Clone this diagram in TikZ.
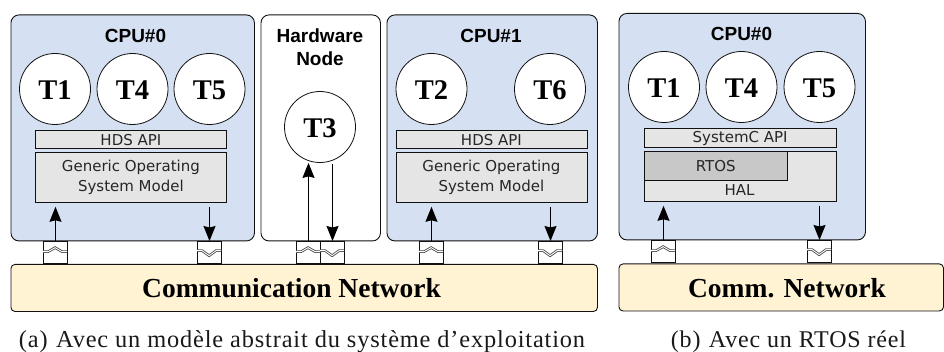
\documentclass[tikz,border=0pt]{standalone}
\usepackage{fontspec}
\setmainfont{Liberation Serif}
\newfontfamily\capf[LetterSpace=3.5]{Liberation Serif}
\newfontfamily\hdr{Liberation Sans}
\newfontfamily\apif{DejaVu Sans}
\usetikzlibrary{arrows.meta,calc}
\definecolor{cpublue}{HTML}{D5E1F3}
\definecolor{netyel}{HTML}{FFF3D3}
\definecolor{apigrey}{HTML}{E5E5E5}
\definecolor{rtosgrey}{HTML}{C8C8C8}
\definecolor{ln}{HTML}{111111}
\tikzset{
  x=1pt,y=-1pt,
  cpubox/.style={draw=ln,fill=cpublue,line width=.9pt,rounded corners=8pt,minimum width=#1,minimum height=226pt,anchor=north west,inner sep=0pt},
  hwbox/.style={draw=ln,fill=white,line width=.9pt,rounded corners=8pt,minimum width=#1,minimum height=226pt,anchor=north west,inner sep=0pt},
  netbox/.style={draw=ln,fill=netyel,line width=.9pt,rounded corners=4pt,minimum width=#1,minimum height=47pt,inner sep=0pt,anchor=north west},
  nettxt/.style={font=\fontsize{27.5}{30}\selectfont\bfseries,text=black},
  task/.style={draw=ln,fill=white,circle,line width=.8pt,minimum size=71pt,inner sep=0pt,text height=21pt,text depth=0pt,font=\fontsize{28.5}{32}\selectfont\bfseries},
  title/.style={font=\hdr\fontsize{19}{23}\selectfont\bfseries,align=center,text=black},
  apibox/.style={draw=ln,fill=apigrey,line width=.8pt,minimum width=#1,minimum height=18.5pt,inner sep=0pt,anchor=north west,font=\apif\fontsize{15}{18}\selectfont,text=black!85},
  osbox/.style={draw=ln,fill=apigrey,line width=.8pt,minimum width=#1,minimum height=50pt,inner sep=0pt,anchor=north west,align=center,font=\apif\fontsize{15}{20}\selectfont,text=black!85},
  rtosbox/.style={draw=ln,fill=rtosgrey,line width=.8pt,minimum width=143.5pt,minimum height=29.5pt,inner sep=0pt,anchor=north west,font=\apif\fontsize{15}{18}\selectfont,text=black!85},
  labeltxt/.style={font=\apif\fontsize{15}{18}\selectfont,text=black!85},
  port/.style={draw=ln,fill=white,line width=.8pt,minimum width=24pt,minimum height=22.5pt,inner sep=0pt,anchor=north},
  flow/.style={line width=1pt,draw=black,-{Stealth[length=15pt,width=12pt,inset=1.5pt]}},
  wave/.style={line width=2.6pt,draw=black!70},
  wavein/.style={line width=.9pt,draw=white},
  caption/.style={font=\capf\fontsize{24}{26}\selectfont,text=black!90},
}
\newcommand{\waveup}[1]{%
  \draw[wave] ($(#1.west)+(0,-1)$) -- ++(5,0) -- ++(7,-4) -- ++(7,4) -- ++(5,0);
  \draw[wavein] ($(#1.west)+(0,-1)$) -- ++(5,0) -- ++(7,-4) -- ++(7,4) -- ++(5,0);
}
\newcommand{\wavedown}[1]{%
  \draw[wave] ($(#1.west)+(0,-2)$) -- ++(5,0) -- ++(7,5) -- ++(7,-5) -- ++(5,0);
  \draw[wavein] ($(#1.west)+(0,-2)$) -- ++(5,0) -- ++(7,5) -- ++(7,-5) -- ++(5,0);
}
\begin{document}
\begin{tikzpicture}
\useasboundingbox (0,0) rectangle (944,352);
% (a) CPU 0
\node[cpubox=243.5pt] (cpua) at (10.5,14.5) {};
\node[title] (ta) at (135.5,36) {CPU\#0};
\node[task] (t1) at (55,89) {T1};
\node[task] (t4) at (132.5,89) {T4};
\node[task] (t5) at (209.5,89) {T5};
\node[apibox=191pt] (apia) at (35,130) {HDS API};
\node[osbox=191pt] (osa) at (35,152) {Generic Operating\\System Model};
% hardware
\node[hwbox=119.5pt] (hw) at (260.5,14.5) {};
\node[title] (th) at (320,47.5) {Hardware\\Node};
\node[task] (t3) at (320,127) {T3};
% CPU1
\node[cpubox=210.5pt] (cpub) at (386.5,14.5) {};
\node[title] (tb) at (491,36) {CPU\#1};
\node[task] (t2) at (431.5,89) {T2};
\node[task] (t6) at (550,89) {T6};
\node[apibox=191pt] (apib) at (395.5,130) {HDS API};
\node[osbox=191pt] (osb) at (395.5,152) {Generic Operating\\System Model};
% network a
\node[netbox=586.5pt] (neta) at (10.5,264) {};
\node[nettxt] (nta) at (291.5,288) {Communication Network};
% ports a
\node[port] (p1) at (55.5,241) {};
\node[port] (p2) at (209.5,241) {};
\node[port] (p3) at (308.5,241) {};
\node[port] (p4) at (332.5,241) {};
\node[port] (p5) at (431.5,241) {};
\node[port] (p6) at (550.5,241) {};
\waveup{p1}\wavedown{p2}\waveup{p3}\wavedown{p4}\waveup{p5}\wavedown{p6}
\draw[flow] (p1.north) -- ($(p1.north |- osa.south)+(0,4)$);
\draw[flow] ($(p2.north |- osa.south)+(0,4)$) -- (p2.north);
\draw[flow] (p3.north) -- (p3.north |- t3.south);
\draw[flow] ($(p4.north |- t3.south)+(0,1)$) -- (p4.north);
\draw[flow] (p5.north) -- ($(p5.north |- osb.south)+(0,4)$);
\draw[flow] ($(p6.north |- osb.south)+(0,4)$) -- (p6.north);
\node[caption,font=\capf\fontsize{24.35}{26}\selectfont] (capa) at (302,342) {(a)\hspace{.35em}Avec un modèle abstrait du système d’exploitation};
% (b)
\node[cpubox=246.5pt,minimum height=226.5pt] (cpuc) at (618.5,13) {};
\node[title] (tc) at (741.5,34) {CPU\#0};
\node[task] (u1) at (664,87) {T1};
\node[task] (u4) at (741.5,87) {T4};
\node[task] (u5) at (819.5,87) {T5};
\node[apibox=192.5pt] (apic) at (643.5,128.5) {SystemC API};
\node[osbox=192.5pt] (hal) at (643.5,151) {};
\node[rtosbox] (rtos) at (643.5,151) {RTOS};
\node[labeltxt] (halt) at (739.5,190) {HAL};
\node[netbox=324.5pt] (netb) at (618.5,263.5) {};
\node[nettxt] (ntb) at (787,288) {Comm. Network};
\node[port] (q1) at (663.5,240) {};
\node[port] (q2) at (819.5,240) {};
\waveup{q1}\wavedown{q2}
\draw[flow] (q1.north) -- ($(q1.north |- hal.south)+(0,4)$);
\draw[flow] ($(q2.north |- hal.south)+(0,4)$) -- (q2.north);
\node[caption] (capb) at (788.5,342) {(b)\hspace{.35em}Avec un RTOS réel};
\end{tikzpicture}
\end{document}
